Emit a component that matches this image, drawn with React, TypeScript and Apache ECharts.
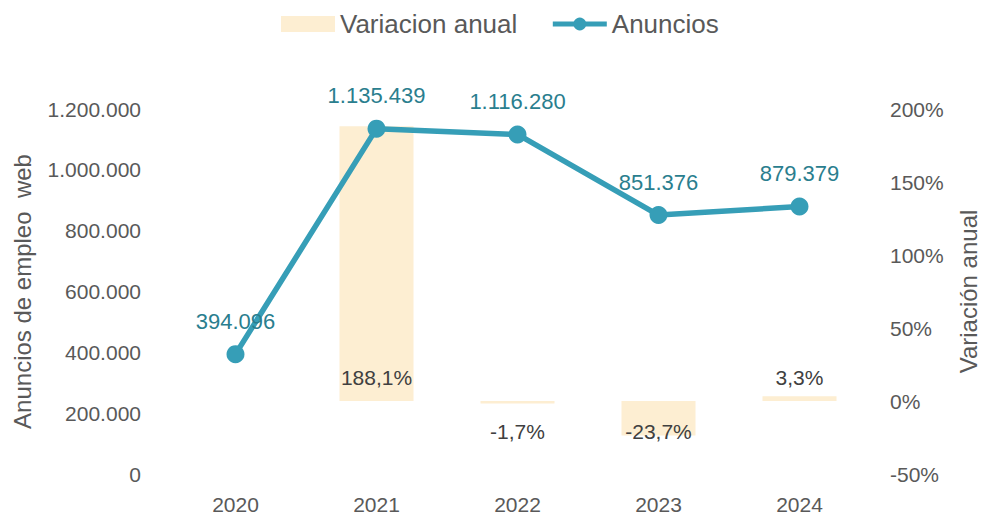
import React, { useEffect, useRef } from "react";
import * as echarts from "echarts";

const years = ["2020", "2021", "2022", "2023", "2024"];
const anuncios = [394096, 1135439, 1116280, 851376, 879379];
const variacion: (number | null)[] = [null, 188.1, -1.7, -23.7, 3.3];
const leftTicks = { min: 0, max: 1200000, interval: 200000 };
const rightTicks = { min: -50, max: 200, interval: 50 };

const fmtThousands = (v: number) =>
  String(Math.round(v)).replace(/\B(?=(\d{3})+(?!\d))/g, ".");
const fmtPct = (v: number) => v.toFixed(1).replace(".", ",") + "%";

const FONT = "'Liberation Sans', Arial, sans-serif";
const LINE_COLOR = "#369EB7";

export default function App() {
  const ref = useRef<HTMLDivElement>(null);
  useEffect(() => {
    if (!ref.current) return;
    const chart = echarts.init(ref.current, undefined, { renderer: "svg" });
    const barData = variacion.map((v) =>
      v === null
        ? "-"
        : {
            value: v,
            label:
              v >= 0
                ? { position: "insideBottom", distance: 13 }
                : { position: "insideTop", distance: 20 },
          }
    );
    chart.setOption({
      animation: false,
      textStyle: { fontFamily: FONT },
      legend: {
        left: 281,
        top: 11,
        padding: 0,
        itemWidth: 54,
        itemHeight: 16,
        itemGap: 33,
        textStyle: { fontSize: 26, color: "#595959", fontFamily: FONT, padding: [0, 0, 0, 0] },
        data: [
          { name: "Variacion anual", icon: "rect" },
          {
            name: "Anuncios",
            lineStyle: { width: 5, color: LINE_COLOR },
            itemStyle: { color: LINE_COLOR },
          },
        ],
      },
      grid: { left: 165, right: 112, top: 109, bottom: 43, outerBoundsMode: "none", containLabel: false },
      xAxis: {
        type: "category",
        data: years,
        axisLine: { show: false },
        axisTick: { show: false },
        axisLabel: { fontSize: 21, color: "#595959", margin: 20, fontFamily: FONT },
      },
      yAxis: [
        {
          type: "value",
          min: leftTicks.min,
          max: leftTicks.max,
          interval: leftTicks.interval,
          name: "Anuncios de empleo  web",
          nameLocation: "middle",
          nameRotate: 90,
          nameGap: 131,
          nameTextStyle: { fontSize: 24, color: "#595959", fontFamily: FONT },
          splitLine: { show: false },
          axisLine: { show: false },
          axisTick: { show: false },
          axisLabel: {
            fontSize: 21,
            color: "#595959",
            margin: 24,
            fontFamily: FONT,
            formatter: (v: number) => fmtThousands(v),
          },
        },
        {
          type: "value",
          min: rightTicks.min,
          max: rightTicks.max,
          interval: rightTicks.interval,
          name: "Variación anual",
          nameLocation: "middle",
          nameRotate: 90,
          nameGap: 86,
          nameTextStyle: { fontSize: 24, color: "#595959", fontFamily: FONT },
          splitLine: { show: false },
          axisLine: { show: false },
          axisTick: { show: false },
          axisLabel: {
            fontSize: 21,
            color: "#595959",
            margin: 20,
            fontFamily: FONT,
            formatter: "{value}%",
          },
        },
      ],
      series: [
        {
          name: "Variacion anual",
          type: "bar",
          yAxisIndex: 1,
          data: barData,
          barWidth: 74,
          itemStyle: { color: "#FDEED2" },
          label: {
            show: true,
            fontSize: 21,
            color: "#404040",
            fontFamily: FONT,
            formatter: (p: any) => fmtPct(p.value),
          },
        },
        {
          name: "Anuncios",
          type: "line",
          yAxisIndex: 0,
          data: anuncios,
          symbol: "circle",
          symbolSize: 18,
          lineStyle: { color: LINE_COLOR, width: 5.5 },
          itemStyle: { color: LINE_COLOR },
          label: {
            show: true,
            position: "top",
            distance: 13,
            fontSize: 22,
            color: "#2A7E8E",
            fontFamily: FONT,
            formatter: (p: any) => fmtThousands(p.value),
          },
          z: 3,
        },
      ],
    });
    return () => chart.dispose();
  }, []);
  return (
    <div
      ref={ref}
      style={{ position: "fixed", left: 0, top: 0, width: 982, height: 517, background: "#fff" }}
    />
  );
}
